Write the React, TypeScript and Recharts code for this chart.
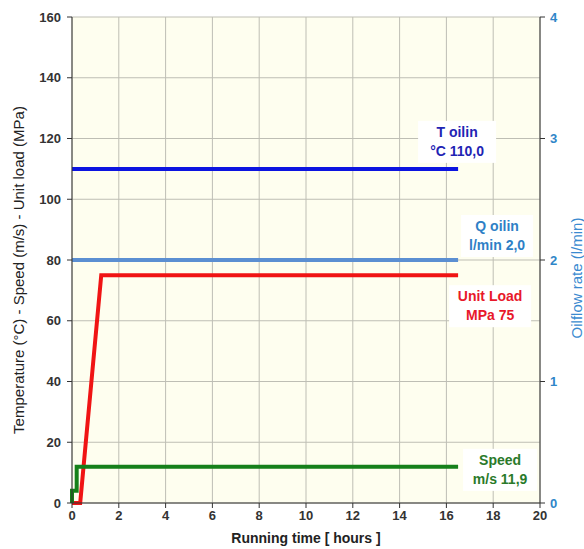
import {
  CartesianGrid,
  LabelList,
  Line,
  LineChart,
  XAxis,
  YAxis,
} from "recharts";

const hourTicks = [0, 2, 4, 6, 8, 10, 12, 14, 16, 18, 20];
const leftTicks = [0, 20, 40, 60, 80, 100, 120, 140, 160];
const rightTicks = [0, 1, 2, 3, 4];

const tOilinHours = [0, 16.5];
const tOilinValues = [110, 110];
const qOilinHours = [0, 16.5];
const qOilinValues = [2.0, 2.0];
const loadHours = [0, 0.35, 1.25, 16.5];
const loadValues = [0, 0, 75, 75];
const speedHours = [0, 0, 0.2, 0.2, 16.5];
const speedValues = [0, 4, 4, 11.9, 11.9];

const toPoints = (hours: number[], values: number[]) =>
  hours.map((t, i) => ({ t, v: values[i] }));

const FONT = "'Liberation Sans', Arial, sans-serif";

type EndLabelProps = {
  x?: number;
  y?: number;
  index?: number;
  last: number;
  lines: [string, string];
  color: string;
  dx: number;
  dy: number;
  boxWidth: number;
};

function EndLabel({ x, y, index, last, lines, color, dx, dy, boxWidth }: EndLabelProps) {
  if (index !== last || x == null || y == null) return null;
  const cx = x + dx;
  const top = y + dy;
  return (
    <g>
      <rect x={cx - boxWidth / 2} y={top - 16} width={boxWidth} height={42} fill="#ffffff" />
      <text
        x={cx}
        y={top}
        textAnchor="middle"
        fill={color}
        fontSize={14}
        fontWeight="bold"
        fontFamily={FONT}
      >
        <tspan x={cx}>{lines[0]}</tspan>
        <tspan x={cx} dy={19}>
          {lines[1]}
        </tspan>
      </text>
    </g>
  );
}

function LeftTitle({ viewBox }: { viewBox?: { x: number; y: number; height: number } }) {
  if (!viewBox) return null;
  const x = viewBox.x + 18;
  const y = viewBox.y + viewBox.height / 2 + 10;
  return (
    <text
      x={x}
      y={y}
      transform={`rotate(-90, ${x}, ${y})`}
      textAnchor="middle"
      dominantBaseline="central"
      fill="#222"
      fontSize={15}
      fontFamily={FONT}
    >
      Temperature (°C) - Speed (m/s) - Unit load (MPa)
    </text>
  );
}

function RightTitle({ viewBox }: { viewBox?: { x: number; y: number; height: number } }) {
  if (!viewBox) return null;
  const x = viewBox.x + 36;
  const y = viewBox.y + viewBox.height / 2 + 18;
  return (
    <text
      x={x}
      y={y}
      transform={`rotate(-90, ${x}, ${y})`}
      textAnchor="middle"
      dominantBaseline="central"
      fill="#3a8ad0"
      fontSize={15}
      fontFamily={FONT}
    >
      Oilflow rate (l/min)
    </text>
  );
}

function BottomTitle({ viewBox }: { viewBox?: { x: number; y: number; width: number } }) {
  if (!viewBox) return null;
  return (
    <text
      x={viewBox.x + viewBox.width / 2}
      y={viewBox.y + 40}
      textAnchor="middle"
      fill="#222"
      fontSize={14}
      fontWeight="bold"
      fontFamily={FONT}
    >
      Running time [ hours ]
    </text>
  );
}

export default function App() {
  const tOilin = toPoints(tOilinHours, tOilinValues);
  const qOilin = toPoints(qOilinHours, qOilinValues);
  const load = toPoints(loadHours, loadValues);
  const speed = toPoints(speedHours, speedValues);

  const tickStyle = { fill: "#333", fontSize: 13, fontWeight: "bold", fontFamily: FONT };

  return (
    <div style={{ position: "absolute", left: 0, top: 0, background: "#fff" }}>
      <LineChart
        width={584}
        height={549}
        margin={{ top: 17, right: 0, left: 0, bottom: 16 }}
      >
        <CartesianGrid
          yAxisId="left"
          fill="#fefeef"
          stroke="#bebeb4"
          strokeWidth={1}
        />
        <XAxis
          dataKey="t"
          type="number"
          domain={[0, 20]}
          ticks={hourTicks}
          height={30}
          tick={tickStyle}
          tickSize={5}
          tickMargin={3}
          axisLine={{ stroke: "#333" }}
          tickLine={{ stroke: "#333" }}
          label={<BottomTitle />}
        />
        <YAxis
          yAxisId="left"
          domain={[0, 160]}
          ticks={leftTicks}
          width={72}
          tick={tickStyle}
          tickSize={5}
          tickMargin={6}
          axisLine={{ stroke: "#333" }}
          tickLine={{ stroke: "#333" }}
          label={<LeftTitle />}
        />
        <YAxis
          yAxisId="right"
          orientation="right"
          domain={[0, 4]}
          ticks={rightTicks}
          width={44}
          tick={{ ...tickStyle, fill: "#2f86c8" }}
          tickSize={5}
          tickMargin={5}
          axisLine={{ stroke: "#333" }}
          tickLine={{ stroke: "#333" }}
          label={<RightTitle />}
        />
        <Line
          yAxisId="right"
          data={qOilin}
          dataKey="v"
          type="linear"
          stroke="#5b8fd2"
          strokeWidth={4}
          dot={false}
          isAnimationActive={false}
        >
          <LabelList
            dataKey="v"
            content={
              <EndLabel
                last={qOilin.length - 1}
                lines={["Q oilin", "l/min 2,0"]}
                color="#2e7fc6"
                dx={39}
                dy={-29}
                boxWidth={72}
              />
            }
          />
        </Line>
        <Line
          yAxisId="left"
          data={tOilin}
          dataKey="v"
          type="linear"
          stroke="#0c14e0"
          strokeWidth={4}
          dot={false}
          isAnimationActive={false}
        >
          <LabelList
            dataKey="v"
            content={
              <EndLabel
                last={tOilin.length - 1}
                lines={["T oilin", "°C 110,0"]}
                color="#1f24b4"
                dx={-1}
                dy={-32}
                boxWidth={78}
              />
            }
          />
        </Line>
        <Line
          yAxisId="left"
          data={load}
          dataKey="v"
          type="linear"
          stroke="#f01414"
          strokeWidth={4}
          dot={false}
          isAnimationActive={false}
        >
          <LabelList
            dataKey="v"
            content={
              <EndLabel
                last={load.length - 1}
                lines={["Unit Load", "MPa 75"]}
                color="#e8182a"
                dx={32}
                dy={26}
                boxWidth={82}
              />
            }
          />
        </Line>
        <Line
          yAxisId="left"
          data={speed}
          dataKey="v"
          type="linear"
          stroke="#15801a"
          strokeWidth={4}
          dot={false}
          isAnimationActive={false}
        >
          <LabelList
            dataKey="v"
            content={
              <EndLabel
                last={speed.length - 1}
                lines={["Speed", "m/s 11,9"]}
                color="#2a7a2a"
                dx={42}
                dy={-2}
                boxWidth={74}
              />
            }
          />
        </Line>
      </LineChart>
    </div>
  );
}
